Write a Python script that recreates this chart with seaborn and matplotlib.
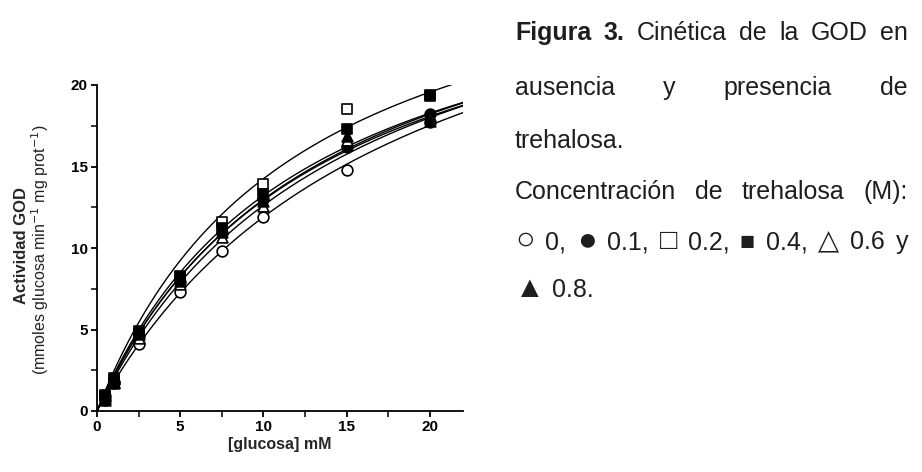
import numpy as np
import pandas as pd
import seaborn as sns
import matplotlib
matplotlib.use("Agg")
import matplotlib.pyplot as plt
from matplotlib.ticker import MultipleLocator

# Glucose concentrations (mM)
glucose_mM = [0.5, 1, 2.5, 5, 7.5, 10, 15, 20]

# Trehalose concentrations (M) and measured GOD activity for each
trehalose_M = ["0", "0.1", "0.2", "0.4", "0.6", "0.8"]
act_t0 = [0.7, 1.7, 4.1, 7.3, 9.8, 11.9, 14.8, 17.7]
act_t01 = [0.9, 1.8, 4.6, 7.9, 10.9, 13.0, 16.2, 18.2]
act_t02 = [1.0, 1.9, 4.8, 8.2, 11.6, 13.9, 18.5, 19.3]
act_t04 = [0.9, 2.0, 4.9, 8.3, 11.2, 13.3, 17.3, 19.4]
act_t06 = [0.8, 1.8, 4.5, 7.8, 10.7, 12.6, 16.6, 18.0]
act_t08 = [0.7, 1.7, 4.7, 8.0, 11.0, 12.9, 16.9, 17.8]

# Michaelis-Menten fit parameters per trehalose level
vmax = [33.2, 30.5, 31.2, 29.6, 31.4, 30.0]
km = [17.9, 13.5, 11.9, 12.4, 14.9, 13.2]

activities = [act_t0, act_t01, act_t02, act_t04, act_t06, act_t08]
markers = ["o", "o", "s", "s", "^", "^"]
filled = [False, True, False, True, False, True]

W, H = 922, 472
sns.set_theme(style="ticks")
plt.rcParams["font.family"] = ["Liberation Sans", "DejaVu Sans"]

fig = plt.figure(figsize=(W / 100, H / 100), dpi=100)
ax = fig.add_axes([97 / W, 1 - 411 / H, (463 - 97) / W, (411 - 85) / H])

# Fitted curves
s_grid = np.linspace(0, 22, 400)
curves = pd.concat(
    [pd.DataFrame({"s": s_grid, "v": vm * s_grid / (k + s_grid), "t": t})
     for t, vm, k in zip(trehalose_M, vmax, km)]
)
sns.lineplot(data=curves, x="s", y="v", units="t", estimator=None,
             color="black", lw=1.0, ax=ax, legend=False)

# Measured points
for t, act, m, f in zip(trehalose_M, activities, markers, filled):
    df = pd.DataFrame({"s": glucose_mM, "v": act})
    sns.scatterplot(data=df, x="s", y="v", marker=m, s=60,
                    facecolor="black" if f else "white", edgecolor="black",
                    linewidth=1.2, ax=ax, zorder=3, clip_on=False)

ax.set_xlim(0, 22)
ax.set_ylim(0, 20)
ax.xaxis.set_major_locator(MultipleLocator(5))
ax.xaxis.set_minor_locator(MultipleLocator(2.5))
ax.yaxis.set_major_locator(MultipleLocator(5))
ax.yaxis.set_minor_locator(MultipleLocator(2.5))
ax.tick_params(which="major", length=4.5, width=1.3, direction="out",
               labelsize=11, pad=2, colors="black")
ax.tick_params(which="minor", length=4, width=1.3, direction="out")
for lab in ax.get_xticklabels() + ax.get_yticklabels():
    lab.set_fontweight("bold")
sns.despine(ax=ax)
for sp in ("left", "bottom"):
    ax.spines[sp].set_linewidth(1.3)
    ax.spines[sp].set_color("black")
ax.set_xlabel("[glucosa] mM", fontsize=11.5, fontweight="bold", labelpad=2)
ax.set_ylabel("")

fig.text(21 / W, 1 - 246 / H, "Actividad GOD", rotation=90, fontsize=12,
         fontweight="bold", ha="center", va="center")
fig.text(40 / W, 1 - 250 / H, r"(mmoles glucosa min$^{-1}$ mg prot$^{-1}$)",
         rotation=90, fontsize=11.5, ha="center", va="center", color="#222222")

# Caption text, justified between two margins
FS = 18
symbol_scale = {"○": 1.3, "●": 1.3, "□": 1.15, "■": 1.0, "△": 1.1, "▲": 1.2}
LEFT, RIGHT = 515, 908
renderer = fig.canvas.get_renderer()
space_px = FS * 100 / 72 * 0.278


def caption_line(words, baseline_px, justify=True):
    texts = []
    for w, weight in words:
        size = FS * symbol_scale.get(w, 1.0)
        texts.append(fig.text(0, 0, w, fontsize=size, fontweight=weight,
                              color="#1e1e1e", ha="left", va="baseline",
                              family=["Liberation Sans", "DejaVu Sans"]))
    widths = [t.get_window_extent(renderer).width for t in texts]
    if justify and len(texts) > 1:
        gap = (RIGHT - LEFT - sum(widths)) / (len(texts) - 1)
    else:
        gap = space_px
    x = LEFT
    for t, w in zip(texts, widths):
        t.set_position((x / W, 1 - baseline_px / H))
        x += w + gap


N, B = "normal", "bold"
caption_line([("Figura", B), ("3.", B), ("Cinética", N), ("de", N), ("la", N),
              ("GOD", N), ("en", N)], 40)
caption_line([("ausencia", N), ("y", N), ("presencia", N), ("de", N)], 95)
caption_line([("trehalosa.", N)], 148, justify=False)
caption_line([("Concentración", N), ("de", N), ("trehalosa", N), ("(M):", N)], 199)
caption_line([("○", N), ("0,", N), ("●", N), ("0.1,", N), ("□", N), ("0.2,", N),
              ("■", N), ("0.4,", N), ("△", N), ("0.6", N), ("y", N)], 249)
caption_line([("▲", N), ("0.8.", N)], 297, justify=False)

fig.savefig("out.png", dpi=100, facecolor="white")
